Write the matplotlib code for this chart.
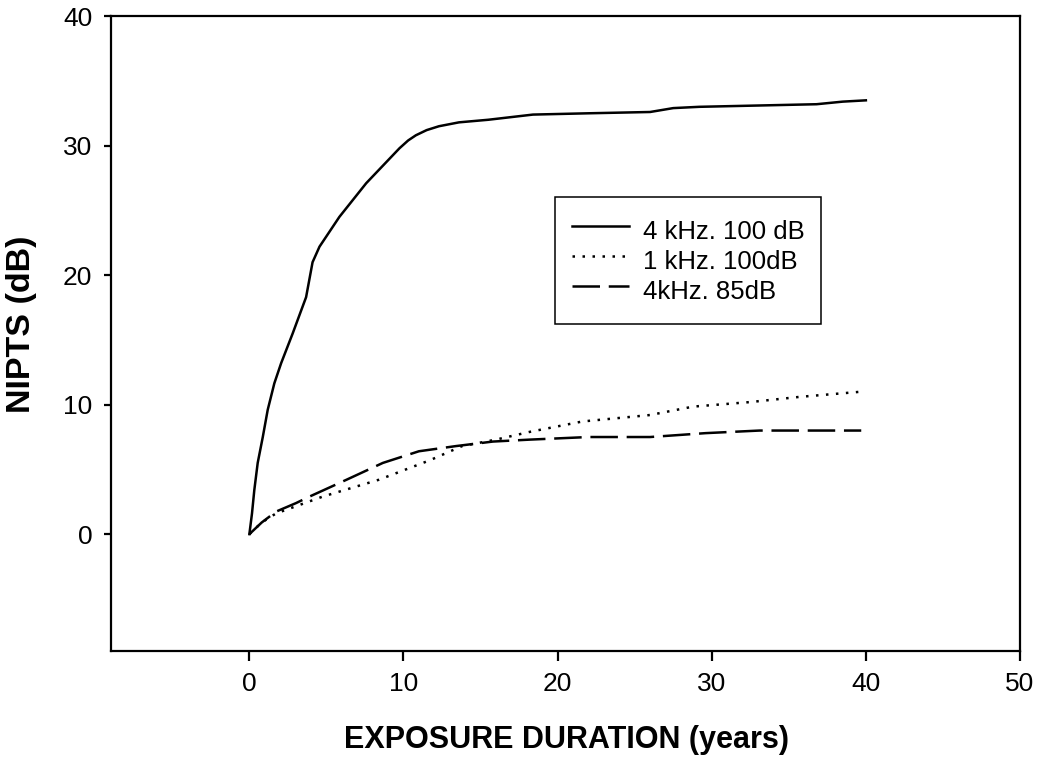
import numpy as np
import matplotlib
matplotlib.use('Agg')
import matplotlib.pyplot as plt

plt.rcParams['font.family'] = ['Liberation Sans', 'DejaVu Sans']

# curves (years, dB)
x_4k100 = [0, 0.17, 0.32, 0.54, 0.87, 1.19, 1.62, 2.06, 2.81, 3.68, 4.1, 4.55, 5.84,
           7.58, 9.74, 10.3, 10.8, 11.5, 12.3, 13.6, 15.5, 18.4, 22, 26, 27.5, 29.2,
           33, 36.8, 38.5, 40]
y_4k100 = [0, 1.6, 3.4, 5.5, 7.5, 9.6, 11.65, 13.2, 15.5, 18.3, 21.0, 22.2, 24.5,
           27.1, 29.8, 30.4, 30.8, 31.2, 31.5, 31.8, 32.0, 32.4, 32.5, 32.6, 32.9, 33.0,
           33.1, 33.2, 33.4, 33.5]

x_1k100 = [0, 0.8, 1.73, 4.76, 8.4, 11.7, 13.8, 16, 18.2, 21.6, 26, 28.8, 32.5, 35.7, 39.7]
y_1k100 = [0, 0.9, 1.6, 2.9, 4.2, 5.7, 6.8, 7.3, 7.9, 8.7, 9.2, 9.85, 10.2, 10.6, 11.0]

x_4k85 = [0, 0.8, 1.73, 3.03, 3.9, 6.3, 8.66, 11.0, 13.4, 15.8, 18.2, 22, 26, 29.6, 33.1, 36, 39.7]
y_4k85 = [0, 0.9, 1.74, 2.4, 2.9, 4.2, 5.5, 6.4, 6.8, 7.15, 7.3, 7.5, 7.5, 7.8, 8.0, 8.0, 8.0]

labels = ['4 kHz. 100 dB', '1 kHz. 100dB', '4kHz. 85dB']
xticks = [0, 10, 20, 30, 40, 50]
yticks = [0, 10, 20, 30, 40]

fig = plt.figure(figsize=(10.44, 7.59), dpi=100)
ax = fig.add_axes([0.106, 0.1427, 0.871, 0.836])

ax.plot(x_4k100, y_4k100, color='black', lw=1.8, ls='-', label=labels[0])
ax.plot(x_1k100, y_1k100, color='black', lw=1.8, ls=(0, (1, 3)), label=labels[1])
ax.plot(x_4k85, y_4k85, color='black', lw=1.8, ls=(0, (11, 3.5)), label=labels[2])

ax.set_xlim(-9, 50)
ax.set_ylim(-9, 40)
ax.set_xticks(xticks)
ax.set_yticks(yticks)

for s in ax.spines.values():
    s.set_linewidth(1.6)
ax.tick_params(axis='x', length=7, width=1.6, pad=8, labelsize=19)
ax.tick_params(axis='y', length=5.3, width=1.6, pad=8, labelsize=19)

ax.set_xlabel('EXPOSURE DURATION (years)', fontsize=22, fontweight='bold')
ax.set_ylabel('NIPTS (dB)', fontsize=24.5, fontweight='bold')
ax.xaxis.set_label_coords(0.501, -0.117)
ax.yaxis.set_label_coords(-0.081, 0.515)

# taller handle box pushes rows down a bit, negative spacing keeps rows 30px apart
leg = ax.legend(loc='upper left', bbox_to_anchor=(0.4886, 0.7148), borderaxespad=0,
                fontsize=18.5, handlelength=2.24, handletextpad=0.52, borderpad=0.65,
                handleheight=1.6, labelspacing=-0.117, fancybox=False, framealpha=1)
leg.get_frame().set_edgecolor('black')
leg.get_frame().set_linewidth(1.1)

fig.savefig('out.png', dpi=100)
